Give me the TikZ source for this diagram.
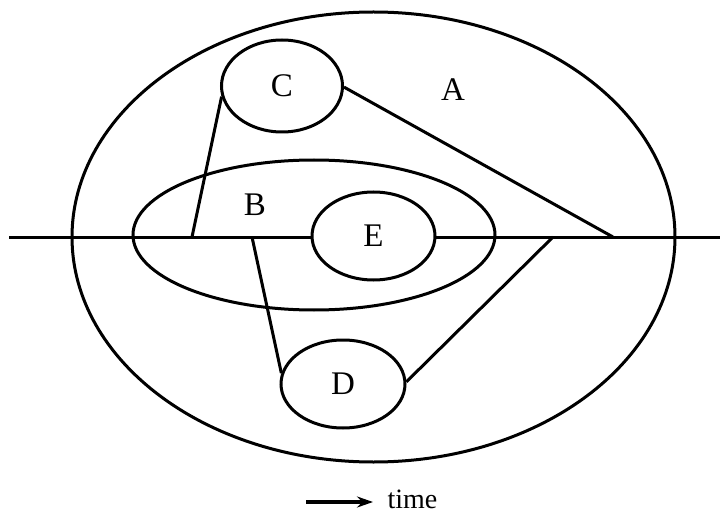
\documentclass[tikz,border=0pt]{standalone}
\usepackage{fontspec}
\setmainfont{Liberation Serif}
\usetikzlibrary{shapes.geometric,arrows.meta}

\begin{document}
\begin{tikzpicture}[x=1pt, y=-1pt, line width=3pt, >={Stealth[length=16pt,width=11pt]},
    region/.style={draw, ellipse, inner sep=0pt, font=\fontsize{33}{33}\selectfont},
    letter/.style={inner sep=0pt, font=\fontsize{33}{33}\selectfont}]
    \useasboundingbox (0,0) rectangle (728,513);
    % outer region A
    \node[region, minimum width=603pt, minimum height=450pt] (A) at (373.5,237) {};
    \node[letter] (labA) at (453,90) {A};
    % region B
    \node[region, minimum width=362pt, minimum height=150pt] (B) at (314,235) {};
    \node[letter] (labB) at (255,205) {B};
    % time axis
    \coordinate (t0) at (9,237);
    \coordinate (t1) at (720,237);
    \draw (t0) -- (t1);
    % small regions
    \node[region, fill=white, minimum width=123pt, minimum height=88pt] (E) at (373.5,236) {E};
    \node[region, minimum width=121pt, minimum height=92pt] (C) at (282,86) {C};
    \node[region, minimum width=124pt, minimum height=88pt] (D) at (343,384) {D};
    % feet on the axis
    \coordinate (c1) at (192,237);
    \coordinate (c2) at (613,237);
    \coordinate (d1) at (252,237);
    \coordinate (d2) at (553,237);
    \draw (C.190) -- (c1);
    \draw (C.-1) -- (c2);
    \draw (d1) -- (D.170);
    \draw (D.2) -- (d2);
    % direction of time
    \coordinate (tail) at (306,502);
    \coordinate (head) at (373,502);
    \draw[->, line width=3.6pt] (tail) -- (head);
    \node[inner sep=0pt, anchor=west, font=\fontsize{28}{28}\selectfont] (tlabel) at (386,499) {time};
\end{tikzpicture}
\end{document}
